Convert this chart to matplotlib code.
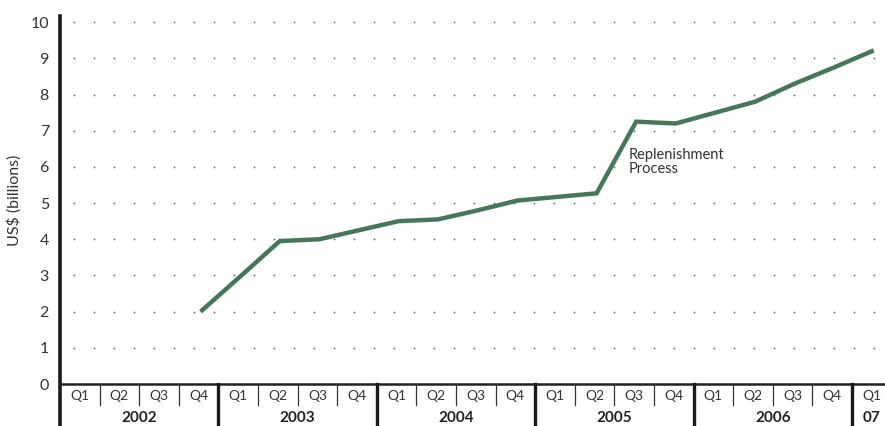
import matplotlib
matplotlib.use("Agg")
import matplotlib.pyplot as plt
import numpy as np
from matplotlib.transforms import blended_transform_factory

years = ["2002", "2003", "2004", "2005", "2006", "07"]
quarters_per_year = [4, 4, 4, 4, 4, 1]
quarter_labels = ["Q1", "Q2", "Q3", "Q4"]
start_index = 3  # 2002 Q4
values = [2.0, 2.97, 3.95, 4.0, 4.25, 4.5, 4.55, 4.8, 5.07, 5.17, 5.27,
          7.25, 7.2, 7.5, 7.8, 8.3, 8.75, 9.22]
yticks = list(range(0, 11))
ylabel = "US$ (billions)"
annotation = "Replenishment\nProcess"

W, H = 885, 426
fig = plt.figure(figsize=(W / 100, H / 100), dpi=100)
plt.rcParams['font.family'] = ['Lato', 'DejaVu Sans']
left, right, bottom, top = 60, 885, 384, 16
ax = fig.add_axes([left / W, (H - bottom) / H, (right - left) / W, (bottom - top) / H])

qw = (852 - 60) / 20.0
xmax = (right - left) / qw
ax.set_xlim(0, xmax)
ax.set_ylim(0, 10.17)

# dotted grid
dot_x = np.arange(14 / qw, xmax, 20 / qw)
for y in yticks[1:]:
    ax.scatter(dot_x, np.full_like(dot_x, y), s=1.6, color="#666666", lw=0, zorder=1)

line_color = "#47775a"
xs = np.arange(len(values)) + start_index + 0.55
ax.plot(xs, values, color=line_color, lw=3.2, solid_capstyle="butt",
        solid_joinstyle="miter", zorder=3)

ax.text(14.35, 6.52, annotation, fontsize=10.5, color="#333333", va="top", ha="left",
        linespacing=0.95, zorder=2,
        bbox=dict(facecolor="white", edgecolor="none", pad=0.5))

for s in ["top", "right", "bottom", "left"]:
    ax.spines[s].set_visible(False)
ax.set_xticks([])
ax.set_yticks(yticks)
ax.set_yticklabels([str(t) for t in yticks], fontsize=11.5, color="#333333")
ax.tick_params(axis="y", length=0, pad=8)
ax.set_ylabel(ylabel, fontsize=11.5, color="#333333", labelpad=6)

# axis lines
trans = blended_transform_factory(ax.transData, fig.transFigure)
yb0 = (H - bottom) / H
yq = (H - 405) / H
ax.plot([0, xmax], [0, 0], color="#222222", lw=1.8, clip_on=False, zorder=4)
fig.add_artist(plt.Line2D([left / W, left / W], [0, (H - top) / H], color="#1a1a1a",
                          lw=2.6, transform=fig.transFigure))

idx = 0
for yi, (yr, nq) in enumerate(zip(years, quarters_per_year)):
    for q in range(nq):
        ax.text(idx + q + 0.5, (H - 396) / H, quarter_labels[q], transform=trans,
                ha="center", va="center", fontsize=10, color="#333333")
        if q > 0:
            fig.add_artist(plt.Line2D([idx + q, idx + q], [yq, yb0], color="#333333",
                                      lw=0.9, transform=trans))
    ax.text(idx + nq / 2.0, (H - 418) / H, yr, transform=trans, ha="center",
            va="center", fontsize=11, fontweight="bold", color="#222222")
    if idx > 0:
        fig.add_artist(plt.Line2D([idx, idx], [0, yb0], color="#1a1a1a", lw=2.4,
                                  transform=trans))
    idx += nq

fig.savefig("out.png", dpi=100)
